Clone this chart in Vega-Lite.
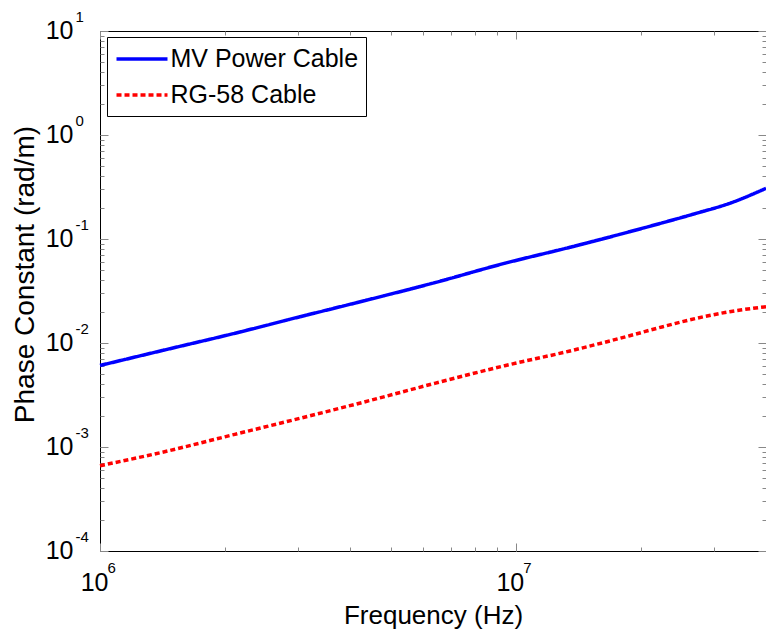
{
  "$schema": "https://vega.github.io/schema/vega-lite/v6.json",
  "autosize": "none",
  "width": 666,
  "height": 520,
  "padding": {"left": 100, "top": 31, "right": 0, "bottom": 81},
  "background": "white",
  "data": {"values": [
    {"f": 1000000, "beta": 0.00608, "series": "MV Power Cable"},
    {"f": 1430000, "beta": 0.00857, "series": "MV Power Cable"},
    {"f": 2110000, "beta": 0.0124, "series": "MV Power Cable"},
    {"f": 3030000, "beta": 0.0179, "series": "MV Power Cable"},
    {"f": 4460000, "beta": 0.0263, "series": "MV Power Cable"},
    {"f": 6380000, "beta": 0.038, "series": "MV Power Cable"},
    {"f": 9410000, "beta": 0.0584, "series": "MV Power Cable"},
    {"f": 13500000, "beta": 0.0832, "series": "MV Power Cable"},
    {"f": 18800000, "beta": 0.1175, "series": "MV Power Cable"},
    {"f": 22600000, "beta": 0.1435, "series": "MV Power Cable"},
    {"f": 27200000, "beta": 0.1767, "series": "MV Power Cable"},
    {"f": 32700000, "beta": 0.2203, "series": "MV Power Cable"},
    {"f": 40000000, "beta": 0.307, "series": "MV Power Cable"},
    {"f": 1000000, "beta": 0.000661, "series": "RG-58 Cable"},
    {"f": 1430000, "beta": 0.000901, "series": "RG-58 Cable"},
    {"f": 2110000, "beta": 0.001324, "series": "RG-58 Cable"},
    {"f": 3030000, "beta": 0.00189, "series": "RG-58 Cable"},
    {"f": 4460000, "beta": 0.0028, "series": "RG-58 Cable"},
    {"f": 6380000, "beta": 0.00409, "series": "RG-58 Cable"},
    {"f": 9410000, "beta": 0.00605, "series": "RG-58 Cable"},
    {"f": 13500000, "beta": 0.00838, "series": "RG-58 Cable"},
    {"f": 18800000, "beta": 0.01175, "series": "RG-58 Cable"},
    {"f": 22600000, "beta": 0.01435, "series": "RG-58 Cable"},
    {"f": 27200000, "beta": 0.01726, "series": "RG-58 Cable"},
    {"f": 32700000, "beta": 0.02, "series": "RG-58 Cable"},
    {"f": 40000000, "beta": 0.02233, "series": "RG-58 Cable"}
  ]},
  "resolve": {"axis": {"x": "independent", "y": "independent"}},
  "layer": [
    {
      "mark": {"type": "line", "strokeWidth": 3.5, "interpolate": "monotone"},
      "encoding": {
        "x": {"field": "f", "type": "quantitative",
          "scale": {"type": "log", "domain": [1000000, 40000000], "nice": false},
          "axis": {"orient": "bottom", "values": [1000000, 10000000], "labelExpr": "'10'", "ticks": true, "tickSize": -8, "domain": false, "grid": false,
            "labelFont": "Liberation Sans", "labelColor": "black", "labelFontSize": 25, "labelAlign": "right", "labelBaseline": "top", "labelOffset": 8, "labelPadding": 27,
            "labelFlush": false, "labelOverlap": false, "labelBound": false,
            "title": "Frequency (Hz)", "titleFont": "Liberation Sans", "titleColor": "black", "titleFontWeight": "normal", "titleFontSize": 26, "titleY": 72, "titleBaseline": "alphabetic"}},
        "y": {"field": "beta", "type": "quantitative",
          "scale": {"type": "log", "domain": [0.0001, 10], "nice": false},
          "axis": {"orient": "left", "values": [0.0001, 0.001, 0.01, 0.1, 1, 10], "labelExpr": "'10'", "ticks": true, "tickSize": -8, "domain": false, "grid": false,
            "labelFont": "Liberation Sans", "labelColor": "black", "labelFontSize": 25, "labelAlign": "right", "labelBaseline": "middle", "labelPadding": 35, "labelOffset": -1,
            "labelFlush": false, "labelOverlap": false, "labelBound": false,
            "title": "Phase Constant (rad/m)", "titleFont": "Liberation Sans", "titleColor": "black", "titleFontWeight": "normal", "titleFontSize": 28, "titleX": -67, "titleY": 243, "titleAngle": 270, "titleBaseline": "alphabetic", "titleAlign": "center"}},
        "color": {"field": "series", "type": "nominal",
          "scale": {"domain": ["MV Power Cable", "RG-58 Cable"], "range": ["#0000ff", "#ff0000"]},
          "legend": {"title": null, "orient": "none", "legendX": 7, "legendY": 6, "symbolType": "M-2,0H2", "symbolSize": 650, "symbolStrokeWidth": 3.5, "symbolOffset": 13,
            "labelFontSize": 25, "labelFont": "Liberation Sans", "labelColor": "black", "labelOffset": 14, "padding": 7.5, "rowPadding": 8, "strokeColor": "black", "fillColor": "white", "cornerRadius": 0, "labelLimit": 400}},
        "strokeDash": {"field": "series", "type": "nominal",
          "scale": {"domain": ["MV Power Cable", "RG-58 Cable"], "range": [[1, 0], [5, 3]]},
          "legend": {"title": null, "orient": "none", "legendX": 7, "legendY": 6, "symbolType": "M-2,0H2", "symbolSize": 650, "symbolStrokeWidth": 3.5, "symbolOffset": 13,
            "labelFontSize": 25, "labelFont": "Liberation Sans", "labelColor": "black", "labelOffset": 14, "padding": 7.5, "rowPadding": 8, "strokeColor": "black", "fillColor": "white", "cornerRadius": 0, "labelLimit": 400}}
      }
    },
    {
      "mark": {"type": "point", "opacity": 0},
      "encoding": {
        "x": {"field": "f", "type": "quantitative",
          "scale": {"type": "log", "domain": [1000000, 40000000], "nice": false},
          "axis": {"orient": "bottom", "values": [1000000, 2000000, 3000000, 4000000, 5000000, 6000000, 7000000, 8000000, 9000000, 10000000, 20000000, 30000000],
            "labelExpr": "abs(log(datum.value)/LN10 - round(log(datum.value)/LN10)) < 0.001 ? '' + round(log(datum.value)/LN10) : ''",
            "ticks": true, "tickSize": -4, "domain": false, "grid": false,
            "labelFont": "Liberation Sans", "labelColor": "black", "labelFontSize": 15, "labelAlign": "left", "labelBaseline": "top", "labelOffset": 7, "labelPadding": 13,
            "labelFlush": false, "labelOverlap": false, "labelBound": false, "title": null}},
        "y": {"field": "beta", "type": "quantitative",
          "scale": {"type": "log", "domain": [0.0001, 10], "nice": false},
          "axis": {"orient": "left", "values": [0.0001, 0.0002, 0.0003, 0.0004, 0.0005, 0.0006, 0.0007, 0.0008, 0.0009, 0.001, 0.002, 0.003, 0.004, 0.005, 0.006, 0.007, 0.008, 0.009, 0.01, 0.02, 0.03, 0.04, 0.05, 0.06, 0.07, 0.08, 0.09, 0.1, 0.2, 0.3, 0.4, 0.5, 0.6, 0.7, 0.8, 0.9, 1, 2, 3, 4, 5, 6, 7, 8, 9, 10],
            "labelExpr": "abs(log(datum.value)/LN10 - round(log(datum.value)/LN10)) < 0.001 ? '' + round(log(datum.value)/LN10) : ''",
            "ticks": true, "tickSize": -4, "domain": false, "grid": false,
            "labelFont": "Liberation Sans", "labelColor": "black", "labelFontSize": 15, "labelAlign": "left", "labelBaseline": "middle", "labelPadding": 29, "labelOffset": -15,
            "labelFlush": false, "labelOverlap": false, "labelBound": false, "title": null}}
      }
    },
    {
      "mark": {"type": "point", "opacity": 0},
      "encoding": {
        "x": {"field": "f", "type": "quantitative",
          "scale": {"type": "log", "domain": [1000000, 40000000], "nice": false},
          "axis": {"orient": "top", "values": [1000000, 10000000],
            "labels": false, "domain": false, "grid": false, "ticks": true, "tickSize": -8, "title": null}},
        "y": {"field": "beta", "type": "quantitative",
          "scale": {"type": "log", "domain": [0.0001, 10], "nice": false},
          "axis": {"orient": "right", "values": [0.0001, 0.001, 0.01, 0.1, 1, 10],
            "labels": false, "domain": false, "grid": false, "ticks": true, "tickSize": -8, "title": null}}
      }
    },
    {
      "mark": {"type": "point", "opacity": 0},
      "encoding": {
        "x": {"field": "f", "type": "quantitative",
          "scale": {"type": "log", "domain": [1000000, 40000000], "nice": false},
          "axis": {"orient": "top", "values": [2000000, 3000000, 4000000, 5000000, 6000000, 7000000, 8000000, 9000000, 20000000, 30000000],
            "labels": false, "domain": false, "grid": false, "ticks": true, "tickSize": -4, "title": null}},
        "y": {"field": "beta", "type": "quantitative",
          "scale": {"type": "log", "domain": [0.0001, 10], "nice": false},
          "axis": {"orient": "right", "values": [0.0002, 0.0003, 0.0004, 0.0005, 0.0006, 0.0007, 0.0008, 0.0009, 0.002, 0.003, 0.004, 0.005, 0.006, 0.007, 0.008, 0.009, 0.02, 0.03, 0.04, 0.05, 0.06, 0.07, 0.08, 0.09, 0.2, 0.3, 0.4, 0.5, 0.6, 0.7, 0.8, 0.9, 2, 3, 4, 5, 6, 7, 8, 9],
            "labels": false, "domain": false, "grid": false, "ticks": true, "tickSize": -4, "title": null}}
      }
    }
  ],
  "config": {
    "view": {"stroke": "black", "strokeWidth": 1}
  }
}
